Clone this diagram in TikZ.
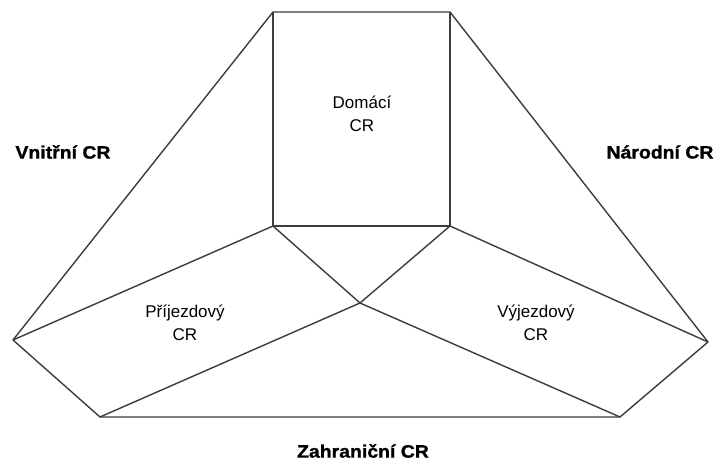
\documentclass[tikz,border=0pt]{standalone}
\usepackage{fontspec}
\setmainfont{Liberation Sans}
\newfontfamily\heavyfont[FakeBold=1.2, FakeStretch=1.08]{Liberation Sans Bold}
\usepackage{tikz}
\definecolor{edgegray}{RGB}{60, 60, 60}

\begin{document}
\begin{tikzpicture}[x=1pt, y=-1pt,
      edge/.style={draw=edgegray, line width=1.4pt, line join=round},
      inlbl/.style={font=\fontsize{17}{23}\selectfont, align=center,
                    inner sep=0pt, anchor=center},
      outlbl/.style={font=\fontsize{18}{22}\selectfont\heavyfont,
                     inner sep=0pt, anchor=center},
    ]
    \useasboundingbox (0,0) rectangle (716,461);
    %% corner points
    \coordinate (tl) at (273, 12);
    \coordinate (tr) at (450, 12);
    \coordinate (sl) at (273, 226);
    \coordinate (sr) at (450, 226);
    \coordinate (mid) at (360, 303);
    \coordinate (lft) at (13, 340);
    \coordinate (rgt) at (708, 342);
    \coordinate (bl) at (100, 417);
    \coordinate (br) at (620, 417);
    %% outline
    \draw[edge] (lft) -- (tl) -- (tr) -- (rgt) -- (br) -- (bl) -- cycle;
    %% inner square
    \draw[edge] (tl) -- (sl) -- (sr) -- (tr);
    %% inner spokes
    \draw[edge] (sl) -- (lft);
    \draw[edge] (sr) -- (rgt);
    \draw[edge] (sl) -- (mid) -- (sr);
    \draw[edge] (bl) -- (mid) -- (br);
    %% region labels
    \node[inlbl] (dom) at (362, 114) {Domácí\\CR};
    \node[inlbl] (pri) at (185, 323) {Příjezdový\\CR};
    \node[inlbl] (vyj) at (536, 323) {Výjezdový\\CR};
    %% outer labels
    \node[outlbl] (vni) at (63, 152) {Vnitřní CR};
    \node[outlbl] (nar) at (660, 152) {Národní CR};
    \node[outlbl] (zah) at (363, 451) {Zahraniční CR};
\end{tikzpicture}
\end{document}
